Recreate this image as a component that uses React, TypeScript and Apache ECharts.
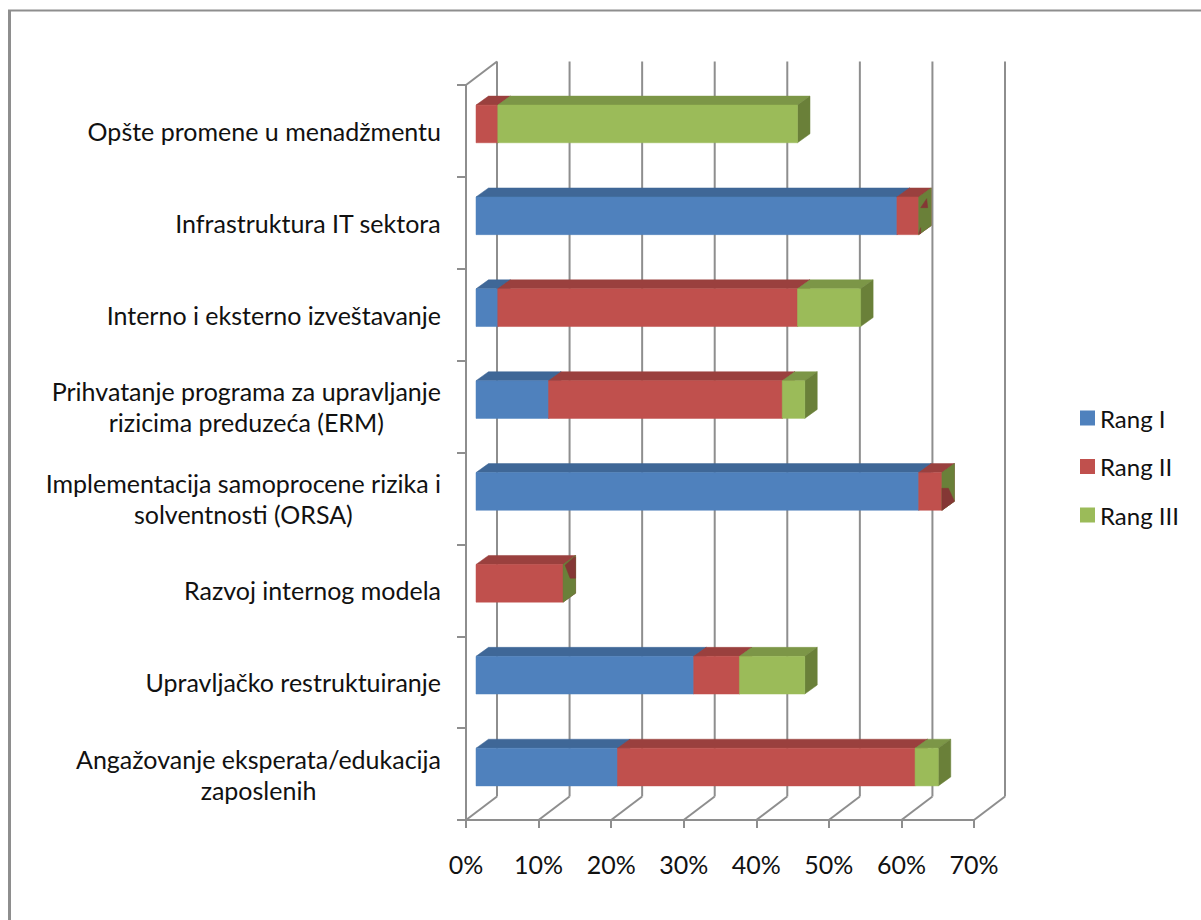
import React, { useEffect, useRef } from "react";
import * as echarts from "echarts";

const categories = [
  "Opšte promene u menadžmentu",
  "Infrastruktura IT sektora",
  "Interno i eksterno izveštavanje",
  "Prihvatanje programa za upravljanje\nrizicima preduzeća (ERM)",
  "Implementacija samoprocene rizika i\nsolventnosti (ORSA)",
  "Razvoj internog modela",
  "Upravljačko restruktuiranje",
  "Angažovanje eksperata/edukacija\nzaposlenih",
];
const seriesNames = ["Rang I", "Rang II", "Rang III"];
const rangI = [0, 58, 3, 10, 61, 0, 30, 19.5];
const rangII = [3, 3, 41.3, 32.2, 3.2, 12, 6.3, 41];
const rangIII = [41.3, 0, 8.7, 3.1, 0, 0, 9, 3.2];
const xTicks = [0, 10, 20, 30, 40, 50, 60, 70];

const FRONT = ["#4F81BD", "#C0504D", "#9BBB59"];
const TOP = ["#3F6797", "#9A403E", "#7C9647"];
const SIDE = ["#375A85", "#843735", "#6A8039"];
const LINE = "#8E8E8E";
const TEXT = "#111111";
const FONT = "Lato";
const LABEL_SIZE = 25;
const LEGEND_SIZE = 24;

const BAR_DX = 10, BAR_DY = -7; // bar plane offset from the front plane
const DEPTH_DX = 12.5, DEPTH_DY = -9; // bar depth
const WALL_DX = 31, WALL_DY = -23.5; // chart depth
const BAR_RATIO = 0.41;

const stacks = [rangI, rangII, rangIII];

// Where a zero-width Rang III sits on the end of a bar, the hidden Rang II side
// shows through it; offsets are from the bar's lower front corner.
const sideFragments: Record<number, number[][][]> = {
  1: [
    [[8, -36], [2, -27], [9, -27]],
    [[2, -7], [0, -1], [2, -1]],
  ],
  4: [[[0, -22], [6.5, -22], [12.5, -9], [0, 0]]],
  5: [[[11, -45], [12.5, -45], [12.5, -24], [7, -24], [2, -37]]],
};

function barRender(seriesIndex: number) {
  return (_params: any, api: any) => {
    const start = api.value(0);
    const end = api.value(1);
    const cat = api.value(2);
    const raw = stacks[seriesIndex][cat];
    const isZero = raw === 0;
    if (isZero && seriesIndex < 2) return { type: "group", children: [] };
    const h = api.size([0, 1])[1] * BAR_RATIO;
    const a = api.coord([start, cat]);
    const b = api.coord([end, cat]);
    const x0 = a[0] + BAR_DX, x1 = b[0] + BAR_DX;
    const yT = a[1] + BAR_DY - h / 2, yB = a[1] + BAR_DY + h / 2;
    const poly = (pts: number[][], fill: string) => ({
      type: "polygon",
      shape: { points: pts },
      style: { fill, stroke: fill, lineWidth: 0.5 },
    });
    const side = poly(
      [[x1, yT], [x1 + DEPTH_DX, yT + DEPTH_DY], [x1 + DEPTH_DX, yB + DEPTH_DY], [x1, yB]],
      SIDE[seriesIndex]
    );
    if (isZero) {
      const frags = (sideFragments[cat] || []).map((f) =>
        poly(f.map(([dx, dy]) => [x1 + dx, yB + dy]), SIDE[1])
      );
      return { type: "group", children: [side, ...frags] };
    }
    return {
      type: "group",
      children: [
        poly(
          [[x0, yT], [x0 + DEPTH_DX, yT + DEPTH_DY], [x1 + DEPTH_DX, yT + DEPTH_DY], [x1, yT]],
          TOP[seriesIndex]
        ),
        side,
        poly([[x0, yT], [x1, yT], [x1, yB], [x0, yB]], FRONT[seriesIndex]),
      ],
    };
  };
}

function wallRender(params: any, api: any) {
  const v = api.value(0);
  const sys = params.coordSys;
  const x = api.coord([v, 0])[0];
  const top = sys.y, bottom = sys.y + sys.height;
  const ln = (x1: number, y1: number, x2: number, y2: number) => ({
    type: "line",
    shape: { x1, y1, x2, y2 },
    style: { stroke: LINE, lineWidth: 2 },
  });
  const children = [
    ln(x, bottom, x + WALL_DX, bottom + WALL_DY),
    ln(x + WALL_DX, bottom + WALL_DY, x + WALL_DX, top + WALL_DY),
  ];
  if (v === 0) children.push(ln(x, top, x + WALL_DX, top + WALL_DY));
  return { type: "group", children };
}

function App() {
  const ref = useRef<HTMLDivElement>(null);
  useEffect(() => {
    const chart = echarts.init(ref.current!, undefined, { renderer: "svg" });
    const bars = seriesNames.map((name, si) => ({
      type: "custom",
      name,
      z: 3,
      itemStyle: { color: FRONT[si] },
      renderItem: barRender(si),
      encode: { x: [0, 1], y: 2 },
      data: categories.map((_c, i) => {
        let start = 0;
        for (let k = 0; k < si; k++) start += stacks[k][i];
        return [start, start + stacks[si][i], i];
      }),
    }));
    chart.setOption({
      animation: false,
      backgroundColor: "#FFFFFF",
      textStyle: { fontFamily: FONT },
      graphic: [
        {
          type: "line",
          silent: true,
          shape: { x1: 9.5, y1: 10.5, x2: 9.5, y2: 920 },
          style: { stroke: LINE, lineWidth: 3 },
        },
        {
          type: "line",
          silent: true,
          shape: { x1: 8, y1: 10.5, x2: 1201, y2: 10.5 },
          style: { stroke: LINE, lineWidth: 2 },
        },
      ],
      grid: { left: 466, top: 85, width: 508, height: 735, containLabel: false },
      legend: {
        orient: "vertical",
        left: 1080,
        top: 406,
        padding: 0,
        itemWidth: 15,
        itemHeight: 15,
        itemGap: 24.5,
        icon: "rect",
        data: seriesNames,
        textStyle: { fontFamily: FONT, fontSize: LEGEND_SIZE, color: TEXT, padding: 0 },
      },
      xAxis: {
        type: "value",
        min: 0,
        max: 70,
        interval: 10,
        splitLine: { show: false },
        axisLine: { show: true, onZero: false, lineStyle: { color: LINE, width: 2 } },
        axisTick: { show: true, length: 8, lineStyle: { color: LINE, width: 2 } },
        axisLabel: {
          formatter: "{value}%",
          margin: 31,
          fontFamily: FONT,
          fontSize: LABEL_SIZE,
          color: TEXT,
        },
      },
      yAxis: {
        type: "category",
        inverse: true,
        data: categories,
        axisLine: { show: true, onZero: false, lineStyle: { color: LINE, width: 2 } },
        axisTick: { show: true, length: 9, alignWithLabel: false, lineStyle: { color: LINE, width: 2 } },
        axisLabel: {
          margin: 25,
          interval: 0,
          fontFamily: FONT,
          fontSize: LABEL_SIZE,
          color: TEXT,
          lineHeight: 31,
          align: "right",
          formatter: (v: string) =>
            v.split("\n").map((l) => `{c|${l}}`).join("\n"),
          rich: {
            c: { align: "center", fontFamily: FONT, fontSize: LABEL_SIZE, color: TEXT, lineHeight: 31 },
          },
        },
      },
      series: [
        {
          type: "custom",
          name: "walls",
          z: 1,
          silent: true,
          renderItem: wallRender,
          encode: { x: 0 },
          data: xTicks.map((t) => [t]),
        },
        ...bars,
      ],
    });
    return () => chart.dispose();
  }, []);
  return (
    <div
      ref={ref}
      style={{ position: "absolute", left: 0, top: 0, width: 1201, height: 920 }}
    />
  );
}

export default App;
